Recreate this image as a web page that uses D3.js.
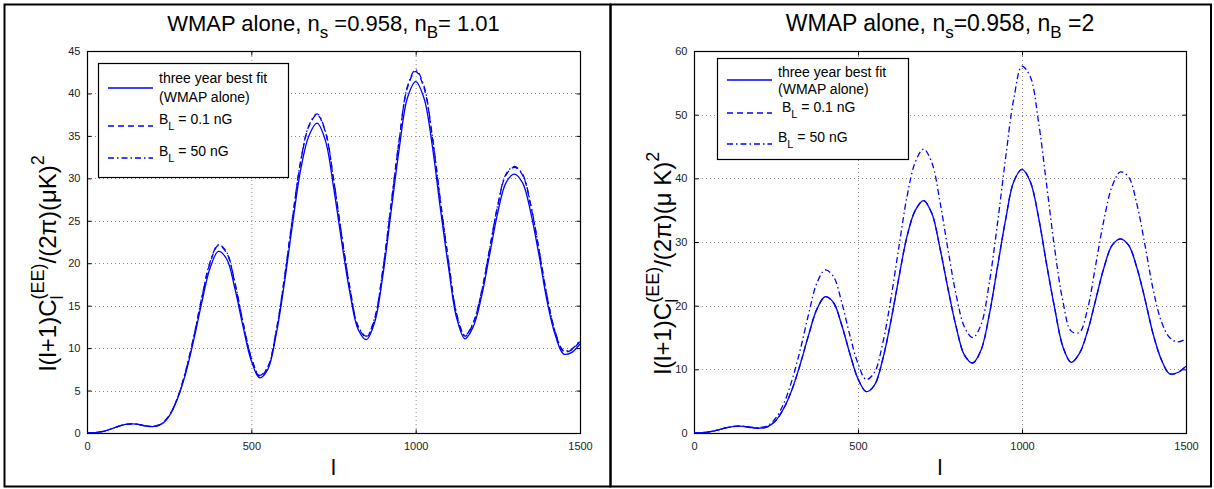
<!DOCTYPE html>
<html>
<head>
<meta charset="utf-8">
<script src="https://cdn.jsdelivr.net/npm/d3@7"></script>
<style>
  body { margin: 0; background: #fff; }
  svg { display: block; font-family: Arial, "Liberation Sans", Helvetica, sans-serif; }
</style>
</head>
<body>
<svg id="fig" width="1214" height="489"></svg>
<script>
// multipole values the curves are read at
const ells = [0, 25, 50, 75, 100, 125, 150, 175, 200, 225, 250, 275, 300, 325, 350, 375, 400, 425, 450, 475,
  500, 525, 550, 575, 600, 625, 650, 675, 700, 725, 750, 775, 800, 825, 850, 875, 900, 925, 950, 975,
  1000, 1025, 1050, 1075, 1100, 1125, 1150, 1175, 1200, 1225, 1250, 1275, 1300, 1325, 1350, 1375, 1400, 1425, 1450, 1475, 1500];

// three year best fit (WMAP alone), same in both panels
const bestFit = [0, 0.05, 0.2, 0.5, 0.85, 1.05, 1.05, 0.85, 0.75, 1.0, 2.0, 4.0, 7.0, 11.0, 15.5, 19.5, 21.4, 20.5, 17.0, 12.5,
  8.5, 6.5, 7.5, 11.5, 17.5, 24.5, 31.0, 35.0, 36.5, 34.5, 29.0, 22.5, 16.5, 12.2, 11.0, 13.0, 18.5, 26.0, 33.5, 39.5,
  41.4, 39.5, 34.0, 26.5, 19.5, 13.5, 11.1, 12.5, 16.0, 21.0, 26.0, 29.5, 30.5, 29.5, 26.0, 21.0, 15.5, 11.5, 9.3, 9.5, 10.5];

// n_B = 1.01
const leftWeak = [0, 0.05, 0.2, 0.5, 0.85, 1.05, 1.05, 0.88, 0.78, 1.05, 2.05, 4.1, 7.2, 11.3, 16.0, 20.1, 22.1, 21.2, 17.6, 12.9,
  8.8, 6.7, 7.7, 11.8, 18.0, 25.2, 31.9, 36.1, 37.5, 35.5, 29.9, 23.2, 17.0, 12.5, 11.3, 13.4, 19.1, 26.8, 34.5, 40.7,
  42.6, 40.7, 35.0, 27.3, 20.1, 13.9, 11.4, 12.9, 16.5, 21.6, 26.8, 30.4, 31.3, 30.4, 26.8, 21.6, 16.0, 11.8, 9.6, 9.8, 10.8];
const leftStrong = [0, 0.05, 0.2, 0.5, 0.85, 1.05, 1.05, 0.88, 0.78, 1.05, 2.05, 4.1, 7.3, 11.4, 16.1, 20.2, 22.2, 21.3, 17.7, 13.0,
  8.9, 6.8, 7.8, 11.9, 18.1, 25.3, 32.0, 36.2, 37.6, 35.6, 30.0, 23.3, 17.1, 12.6, 11.4, 13.5, 19.2, 26.9, 34.6, 40.8,
  42.8, 40.9, 35.2, 27.5, 20.3, 14.0, 11.5, 13.0, 16.6, 21.7, 26.9, 30.5, 31.4, 30.5, 26.9, 21.7, 16.1, 11.9, 9.7, 9.9, 10.9];

// n_B = 2
const rightWeak = [0, 0.05, 0.2, 0.5, 0.85, 1.05, 1.05, 0.85, 0.75, 1.0, 2.0, 4.0, 7.0, 11.0, 15.5, 19.5, 21.4, 20.5, 17.0, 12.5,
  8.5, 6.5, 7.5, 11.5, 17.5, 24.5, 31.0, 35.0, 36.5, 34.5, 29.0, 22.5, 16.5, 12.2, 11.0, 13.0, 18.5, 26.0, 33.5, 39.5,
  41.4, 39.5, 34.0, 26.5, 19.5, 13.5, 11.1, 12.5, 16.0, 21.0, 26.0, 29.5, 30.5, 29.5, 26.0, 21.0, 15.5, 11.5, 9.3, 9.5, 10.5];
const rightStrong = [0, 0.05, 0.2, 0.5, 0.85, 1.05, 1.05, 0.9, 0.85, 1.2, 2.4, 4.8, 8.5, 13.3, 18.8, 23.6, 25.6, 24.6, 20.6, 15.4,
  10.9, 8.4, 9.5, 14.0, 21.0, 29.3, 37.3, 42.6, 44.6, 42.5, 36.3, 28.6, 21.5, 16.6, 15.0, 17.0, 23.5, 32.8, 43.2, 52.5,
  57.6, 56.0, 49.0, 39.0, 28.8, 20.6, 16.0, 15.8, 19.5, 26.5, 33.5, 38.8, 41.0, 40.2, 36.0, 29.5, 22.5, 17.5, 15.0, 14.3, 14.8];

const xTicks = [0, 500, 1000, 1500];
const leftYTicks = [0, 5, 10, 15, 20, 25, 30, 35, 40, 45];
const rightYTicks = [0, 10, 20, 30, 40, 50, 60];

const svg = d3.select("#fig");
const blue = "#0000ff";

// panel frames
svg.append("rect").attr("x", 4.5).attr("y", 4.5).attr("width", 606).attr("height", 482)
  .attr("fill", "none").attr("stroke", "#000").attr("stroke-width", 2);
svg.append("rect").attr("x", 610.5).attr("y", 4.5).attr("width", 600.5).attr("height", 482)
  .attr("fill", "none").attr("stroke", "#000").attr("stroke-width", 2);

// write a text made of plain / sub / sup pieces
function rich(text, parts, small) {
  let shift = 0;
  parts.forEach(function (p) {
    const want = p.sub ? p.sub : (p.sup ? -p.sup : 0);
    const ts = text.append("tspan").text(p.t).attr("dy", want - shift);
    if (p.sub || p.sup) ts.attr("font-size", small);
    if (p.dx) ts.attr("dx", p.dx);
    shift = want;
    p.node = ts.node();
  });
  return text;
}

function drawPanel(cfg) {
  const x = d3.scaleLinear().domain([0, 1500]).range([cfg.x0, cfg.x1]);
  const y = d3.scaleLinear().domain([0, cfg.yMax]).range([433, 51]);
  const g = svg.append("g");

  // grid
  g.append("g").selectAll("line").data(xTicks.slice(1, -1)).join("line")
    .attr("x1", d => x(d) + 0.5).attr("x2", d => x(d) + 0.5)
    .attr("y1", y(0)).attr("y2", y(cfg.yMax))
    .attr("stroke", "#888").attr("stroke-dasharray", "1,3");
  g.append("g").selectAll("line").data(cfg.yTicks.slice(1, -1)).join("line")
    .attr("x1", x(0)).attr("x2", x(1500))
    .attr("y1", d => Math.round(y(d)) + 0.5).attr("y2", d => Math.round(y(d)) + 0.5)
    .attr("stroke", "#888").attr("stroke-dasharray", "1,3");

  // axes, ticks pointing inward
  const axFont = function (s) {
    s.selectAll("text").attr("font-size", 11).attr("fill", "#222").attr("font-family", "Arial, 'Liberation Sans', sans-serif");
    s.select(".domain").remove();
    s.selectAll("line").attr("stroke", "#000");
  };
  g.append("g").attr("transform", "translate(0,433.5)")
    .call(d3.axisBottom(x).tickValues(xTicks).tickFormat(d3.format("d")).tickSize(-4).tickPadding(9)).call(axFont);
  g.append("g").attr("transform", "translate(0,51.5)")
    .call(d3.axisTop(x).tickValues(xTicks).tickSize(-4).tickFormat("")).call(axFont);
  g.append("g").attr("transform", "translate(" + (cfg.x0 + 0.5) + ",0)")
    .call(d3.axisLeft(y).tickValues(cfg.yTicks).tickSize(-4).tickPadding(7)).call(axFont);
  g.append("g").attr("transform", "translate(" + (cfg.x1 + 0.5) + ",0)")
    .call(d3.axisRight(y).tickValues(cfg.yTicks).tickSize(-4).tickFormat("")).call(axFont);

  g.append("rect").attr("x", cfg.x0 + 0.5).attr("y", 51.5)
    .attr("width", cfg.x1 - cfg.x0).attr("height", 382)
    .attr("fill", "none").attr("stroke", "#000").attr("stroke-width", 1.2);

  // curves
  const clipId = "clip" + cfg.x0;
  svg.append("clipPath").attr("id", clipId).append("rect")
    .attr("x", cfg.x0).attr("y", 51).attr("width", cfg.x1 - cfg.x0).attr("height", 382);
  const line = d3.line().x(d => x(d[0])).y(d => y(d[1])).curve(d3.curveCatmullRom);
  const series = [
    { v: bestFit, dash: null },
    { v: cfg.weak, dash: "6,4" },
    { v: cfg.strong, dash: "6,3,1.5,3" }
  ];
  g.append("g").attr("clip-path", "url(#" + clipId + ")")
    .selectAll("path").data(series).join("path")
    .attr("d", s => line(ells.map((l, i) => [l, s.v[i]])))
    .attr("fill", "none").attr("stroke", blue).attr("stroke-width", 1.3)
    .attr("stroke-dasharray", s => s.dash);

  // title
  rich(svg.append("text").attr("x", (cfg.x0 + cfg.x1) / 2).attr("y", 31)
    .attr("text-anchor", "middle").attr("font-size", cfg.titleSize), cfg.title, 17);

  // x label
  svg.append("text").attr("x", (cfg.x0 + cfg.x1) / 2).attr("y", 475)
    .attr("text-anchor", "middle").attr("font-size", 22).text("l");

  // y label
  const yl = svg.append("text").attr("transform", "translate(" + cfg.yLabelX + ",263) rotate(-90)")
    .attr("text-anchor", "middle").attr("font-size", 24);
  const yParts = [
    { t: "l(l+1)C" }, { t: "l", sub: 7 }, { t: "(EE)", sup: 12 },
    { t: cfg.yTail }, { t: "2", sup: 12 }
  ];
  rich(yl, yParts, 18);
  d3.select(yParts[2].node).attr("dx", -yParts[1].node.getComputedTextLength());

  // legend
  const L = cfg.legend;
  svg.append("rect").attr("x", L.x + 0.5).attr("y", L.y + 0.5).attr("width", L.w).attr("height", L.h)
    .attr("fill", "#fff").attr("stroke", "#000").attr("stroke-width", 1.2);
  const lg = svg.append("g").attr("font-size", 14);
  L.rows.forEach(function (r, i) {
    lg.append("line").attr("x1", L.x + 10).attr("x2", L.x + 55)
      .attr("y1", r.ly).attr("y2", r.ly)
      .attr("stroke", blue).attr("stroke-width", 1.3).attr("stroke-dasharray", series[i].dash);
    r.lines.forEach(function (parts, j) {
      rich(lg.append("text").attr("x", r.tx).attr("y", r.ty + j * (r.gap || 0)), parts, 11);
    });
  });
}

drawPanel({
  x0: 87, x1: 580, yMax: 45, yTicks: leftYTicks, weak: leftWeak, strong: leftStrong, yLabelX: 56,
  yTail: "/(2\u03c0)(\u03bcK)", titleSize: 22,
  title: [{ t: "WMAP alone, n" }, { t: "s", sub: 7 }, { t: " =0.958, n" }, { t: "B", sub: 7 }, { t: "= 1.01" }],
  legend: {
    x: 98, y: 63, w: 190, h: 114,
    rows: [
      { ly: 88, tx: 159, ty: 83, gap: 19, lines: [[{ t: "three year best fit" }], [{ t: " (WMAP alone)" }]] },
      { ly: 126, tx: 159, ty: 124, lines: [[{ t: "B" }, { t: "L", sub: 6 }, { t: " = 0.1 nG" }]] },
      { ly: 158, tx: 159, ty: 156, lines: [[{ t: "B" }, { t: "L", sub: 6 }, { t: " = 50 nG" }]] }
    ]
  }
});

drawPanel({
  x0: 694, x1: 1186, yMax: 60, yTicks: rightYTicks, weak: rightWeak, strong: rightStrong, yLabelX: 671,
  yTail: "/(2\u03c0)(\u03bc K)", titleSize: 23,
  title: [{ t: "WMAP alone, n" }, { t: "s", sub: 7 }, { t: "=0.958, n" }, { t: "B", sub: 7 }, { t: " =2" }],
  legend: {
    x: 717, y: 58, w: 191, h: 101,
    rows: [
      { ly: 80, tx: 778, ty: 77, gap: 17, lines: [[{ t: "three year best fit" }], [{ t: "(WMAP alone)" }]] },
      { ly: 113, tx: 782, ty: 112, lines: [[{ t: "B" }, { t: "L", sub: 6 }, { t: "  = 0.1 nG" }]] },
      { ly: 144, tx: 778, ty: 142, lines: [[{ t: "B" }, { t: "L", sub: 6 }, { t: " = 50 nG" }]] }
    ]
  }
});
</script>
</body>
</html>
